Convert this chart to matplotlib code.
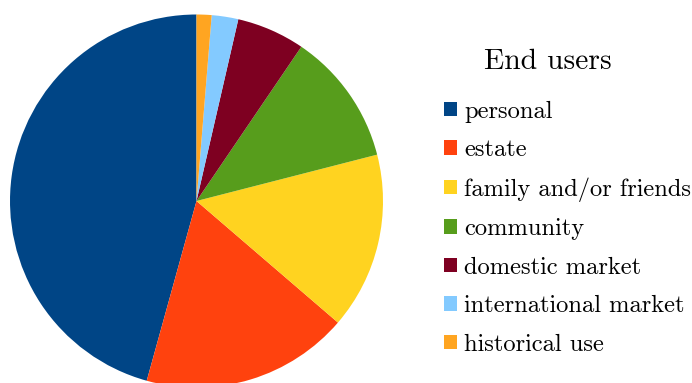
import matplotlib
matplotlib.use('Agg')
import matplotlib.pyplot as plt

plt.rcParams['font.family'] = 'cmr10'
plt.rcParams['axes.formatter.use_mathtext'] = True

labels = ['personal', 'estate', 'family and/or friends', 'community',
          'domestic market', 'international market', 'historical use']
shares = [45.7, 18.0, 15.3, 11.5, 5.9, 2.3, 1.3]
colors = ['#004586', '#ff420e', '#ffd320', '#579d1c', '#7e0021', '#83caff', '#ffa521']

fig = plt.figure(figsize=(6.92, 3.83), dpi=100)
ax = fig.add_axes([10/692, -4.5/383, 373/692, 373/383])
wedges, _ = ax.pie(shares, colors=colors, startangle=90, counterclock=True,
                   radius=1, wedgeprops=dict(linewidth=0))
ax.set_xlim(-1, 1)
ax.set_ylim(-1, 1)
ax.set_aspect('equal')
ax.axis('off')

fig.text(547.5/692, 1 - 69/383, 'End users', fontsize=21.4,
         ha='center', va='baseline')
leg = fig.legend(wedges, labels, loc='upper left',
                 bbox_to_anchor=(444/692, 1 - 100.5/383),
                 frameon=False, fontsize=17.6,
                 handlelength=0.53, handleheight=0.53,
                 handletextpad=0.29, labelspacing=0.667, borderaxespad=0,
                 borderpad=0)

fig.savefig('out.png', dpi=100)
